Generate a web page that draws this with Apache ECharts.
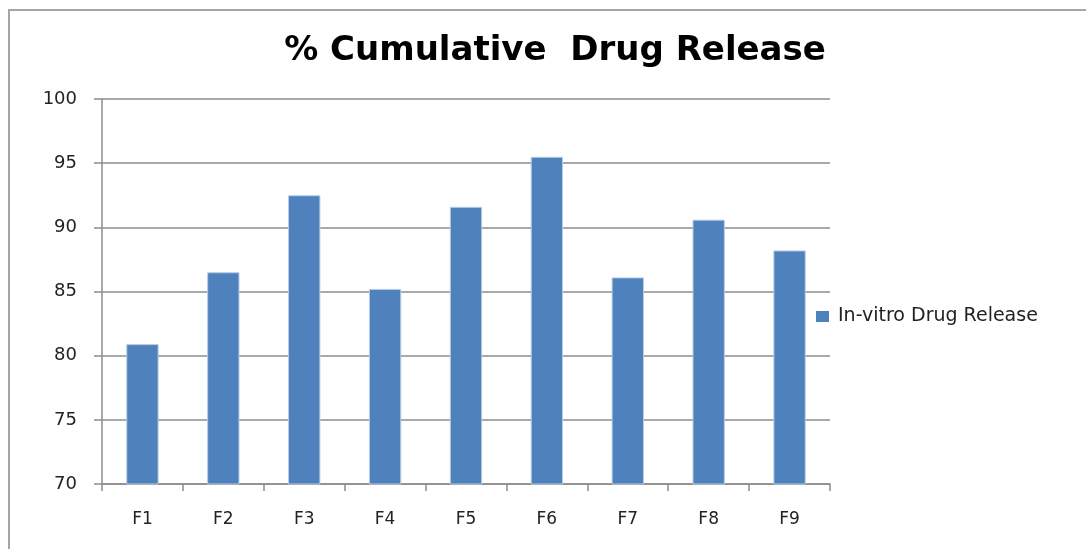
<!DOCTYPE html>
<html>
<head>
<meta charset="utf-8">
<script src="https://cdn.jsdelivr.net/npm/echarts@6/dist/echarts.min.js"></script>
<style>
html,body{margin:0;padding:0;background:#fff;}
#chart{width:1086px;height:549px;}
</style>
</head>
<body>
<div id="chart"></div>
<script>
const titleText = '% Cumulative  Drug Release';
const seriesName = 'In-vitro Drug Release';
const categories = ['F1','F2','F3','F4','F5','F6','F7','F8','F9'];
const values = [80.9, 86.5, 92.5, 85.2, 91.6, 95.5, 86.1, 90.6, 88.2];
const yMin = 70, yMax = 100, yStep = 5;

const chart = echarts.init(document.getElementById('chart'));
chart.setOption({
  animation: false,
  backgroundColor: '#fff',
  title: {
    text: titleText,
    left: 550, top: 29, textAlign: 'center',
    textStyle: { fontFamily: 'DejaVu Sans', fontWeight: 'bold', fontSize: 34, color: '#000' }
  },
  graphic: [{
    type: 'polyline',
    shape: { points: [[9, 549], [9, 10], [1086, 10]] },
    style: { stroke: '#a6a6a6', lineWidth: 2, fill: null }
  }],
  legend: {
    left: 811, top: 302,
    icon: 'rect', itemWidth: 13, itemHeight: 11, itemGap: 10,
    itemStyle: { borderWidth: 0 },
    textStyle: { fontFamily: 'DejaVu Sans', fontSize: 19, color: '#222', padding: [0, 0, 0, 4] },
    data: [seriesName]
  },
  grid: { left: 102, right: 256, top: 99, bottom: 65, containLabel: false },
  xAxis: {
    type: 'category', data: categories,
    axisLine: { lineStyle: { color: '#8c8c8c', width: 1.5 } },
    axisTick: { show: true, alignWithLabel: false, length: 7, lineStyle: { color: '#8c8c8c', width: 1.5 } },
    axisLabel: { fontFamily: 'DejaVu Sans', fontSize: 17, color: '#222', margin: 27 }
  },
  yAxis: {
    type: 'value', min: yMin, max: yMax, interval: yStep,
    axisLine: { show: true, lineStyle: { color: '#8c8c8c', width: 1.5 } },
    axisTick: { show: true, length: 8, lineStyle: { color: '#8c8c8c', width: 1.5 } },
    axisLabel: { fontFamily: 'DejaVu Sans', fontSize: 18, color: '#222', margin: 25 },
    splitLine: { lineStyle: { color: '#8c8c8c', width: 1.5 } }
  },
  series: [{
    name: seriesName, type: 'bar', data: values,
    barWidth: '40%',
    itemStyle: { color: '#4F81BD', borderColor: '#b9cde5', borderWidth: 1 }
  }]
});
</script>
</body>
</html>
